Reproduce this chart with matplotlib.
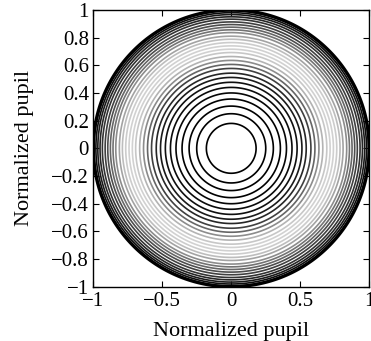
import numpy as np
import matplotlib
matplotlib.use("Agg")
import matplotlib.pyplot as plt

plt.rcParams['font.family'] = ['Liberation Serif', 'DejaVu Serif']
plt.rcParams['axes.unicode_minus'] = True

# contour rings of the pupil map (normalized radius)
ring_radius = [0.18, 0.25, 0.305, 0.356, 0.40, 0.44, 0.477, 0.512, 0.543,
               0.577, 0.606, 0.635, 0.663, 0.692, 0.716, 0.74, 0.764, 0.788,
               0.81, 0.836, 0.856, 0.875, 0.894, 0.913, 0.933, 0.95, 0.966,
               0.98, 0.993, 1.0]
# grey level of each ring (0 = black, 1 = white)
ring_grey = [0.0, 0.0, 0.0, 0.0, 0.02, 0.04, 0.06, 0.1, 0.15,
             0.25, 0.4, 0.55, 0.7, 0.78, 0.82, 0.82, 0.8, 0.74,
             0.64, 0.55, 0.45, 0.4, 0.3, 0.25, 0.2, 0.15, 0.1,
             0.05, 0.0, 0.0]

xticks = [-1, -0.5, 0, 0.5, 1]
yticks = [-1, -0.8, -0.6, -0.4, -0.2, 0, 0.2, 0.4, 0.6, 0.8, 1]

fig = plt.figure(figsize=(3.71, 3.41), dpi=100)
ax = fig.add_axes([0.251, 0.159, 0.7445, 0.812])

g = np.linspace(-1.05, 1.05, 801)
X, Y = np.meshgrid(g, g)
R = np.hypot(X, Y)

cols = [str(v) for v in ring_grey]
widths = [1.2] * (len(ring_radius) - 1) + [2.2]
ax.contour(X, Y, R, levels=ring_radius, colors=cols, linewidths=widths)

ax.set_xlim(-1, 1)
ax.set_ylim(-1, 1)
ax.set_aspect('auto')
ax.set_xticks(xticks)
ax.set_yticks(yticks)
ax.set_xticklabels(['\u22121', '\u22120.5', '0', '0.5', '1'])
ax.set_yticklabels([('\u2212' + f'{abs(v):g}') if v < 0 else f'{v:g}' for v in yticks])
ax.tick_params(direction='in', top=True, right=True, length=4, width=0.8,
               labelsize=15, pad=3)
ax.tick_params(axis='x', pad=4)
for s in ax.spines.values():
    s.set_linewidth(1.0)

ax.set_xlabel('Normalized pupil', fontsize=16, labelpad=8)
ax.set_ylabel('Normalized pupil', fontsize=16, labelpad=12)

fig.savefig('out.png', dpi=100)
